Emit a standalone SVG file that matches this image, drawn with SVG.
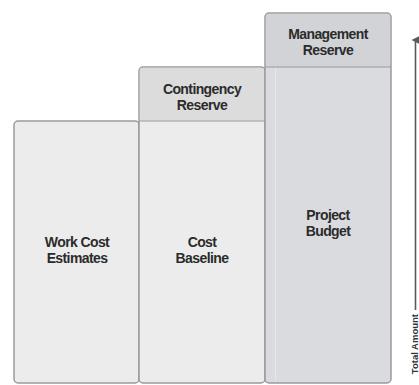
<svg xmlns="http://www.w3.org/2000/svg" width="419" height="385" viewBox="0 0 419 385">
  <style>
    .lbl { font-family: "Liberation Sans", Arial, sans-serif; font-weight: bold; font-size: 14px; fill: #2b2b2b; text-anchor: middle; letter-spacing: -0.6px; }
    .box { stroke: #9a9a9a; stroke-width: 1.5; }
    .light { fill: #ececec; }
    .hdr { fill: #dcdcdc; }
    .dark { fill: #d9dbde; }
    .dkhdr { fill: #d1d3d6; }
    .sep { stroke: #9a9a9a; stroke-width: 1.2; }
    .axis { stroke: #5a5a5a; stroke-width: 1.6; fill: none; }
    .axislbl { font-family: "Liberation Sans", Arial, sans-serif; font-weight: bold; font-size: 9.5px; fill: #333; }
  </style>
  <defs>
    <marker id="head" viewBox="0 0 10 10" refX="5" refY="5" markerWidth="5" markerHeight="6" orient="auto-start-reverse">
      <path d="M0,10 L5,0 L10,10 Z" fill="#5a5a5a"/>
    </marker>
  </defs>
  <rect width="419" height="385" fill="#ffffff"/>

  <!-- Work cost estimates -->
  <g id="work-cost-estimates">
    <rect class="box light" x="14" y="121" width="125" height="262" rx="4"/>
    <text class="lbl" x="77" y="247">Work Cost</text>
    <text class="lbl" x="77" y="263">Estimates</text>
  </g>

  <!-- Cost baseline with contingency reserve on top -->
  <g id="cost-baseline">
    <rect class="box light" x="139" y="67" width="126" height="316" rx="4"/>
    <rect class="hdr" x="139.8" y="67.8" width="124.4" height="53" rx="3"/>
    <line class="sep" x1="139" y1="121" x2="265" y2="121"/>
    <text class="lbl" x="202" y="94">Contingency</text>
    <text class="lbl" x="202" y="110">Reserve</text>
    <text class="lbl" x="202" y="247">Cost</text>
    <text class="lbl" x="202" y="263">Baseline</text>
  </g>

  <!-- Project budget with management reserve on top -->
  <g id="project-budget">
    <rect class="box dark" x="265" y="13" width="126" height="370" rx="4"/>
    <rect class="dkhdr" x="265.8" y="13.8" width="124.4" height="53" rx="3"/>
    <line class="sep" x1="265" y1="67" x2="391" y2="67"/>
    <line x1="275.5" y1="68" x2="275.5" y2="380" stroke="#e6e7e9" stroke-width="1"/>
    <text class="lbl" x="328" y="39">Management</text>
    <text class="lbl" x="328" y="55">Reserve</text>
    <text class="lbl" x="328" y="220">Project</text>
    <text class="lbl" x="328" y="236">Budget</text>
  </g>

  <!-- Vertical amount axis -->
  <g id="connectors">
    <line class="axis" x1="415.5" y1="310" x2="415.5" y2="40" marker-end="url(#head)"/>
    <text class="axislbl" transform="translate(418,314) rotate(-90)" text-anchor="end">Total Amount</text>
  </g>
</svg>
